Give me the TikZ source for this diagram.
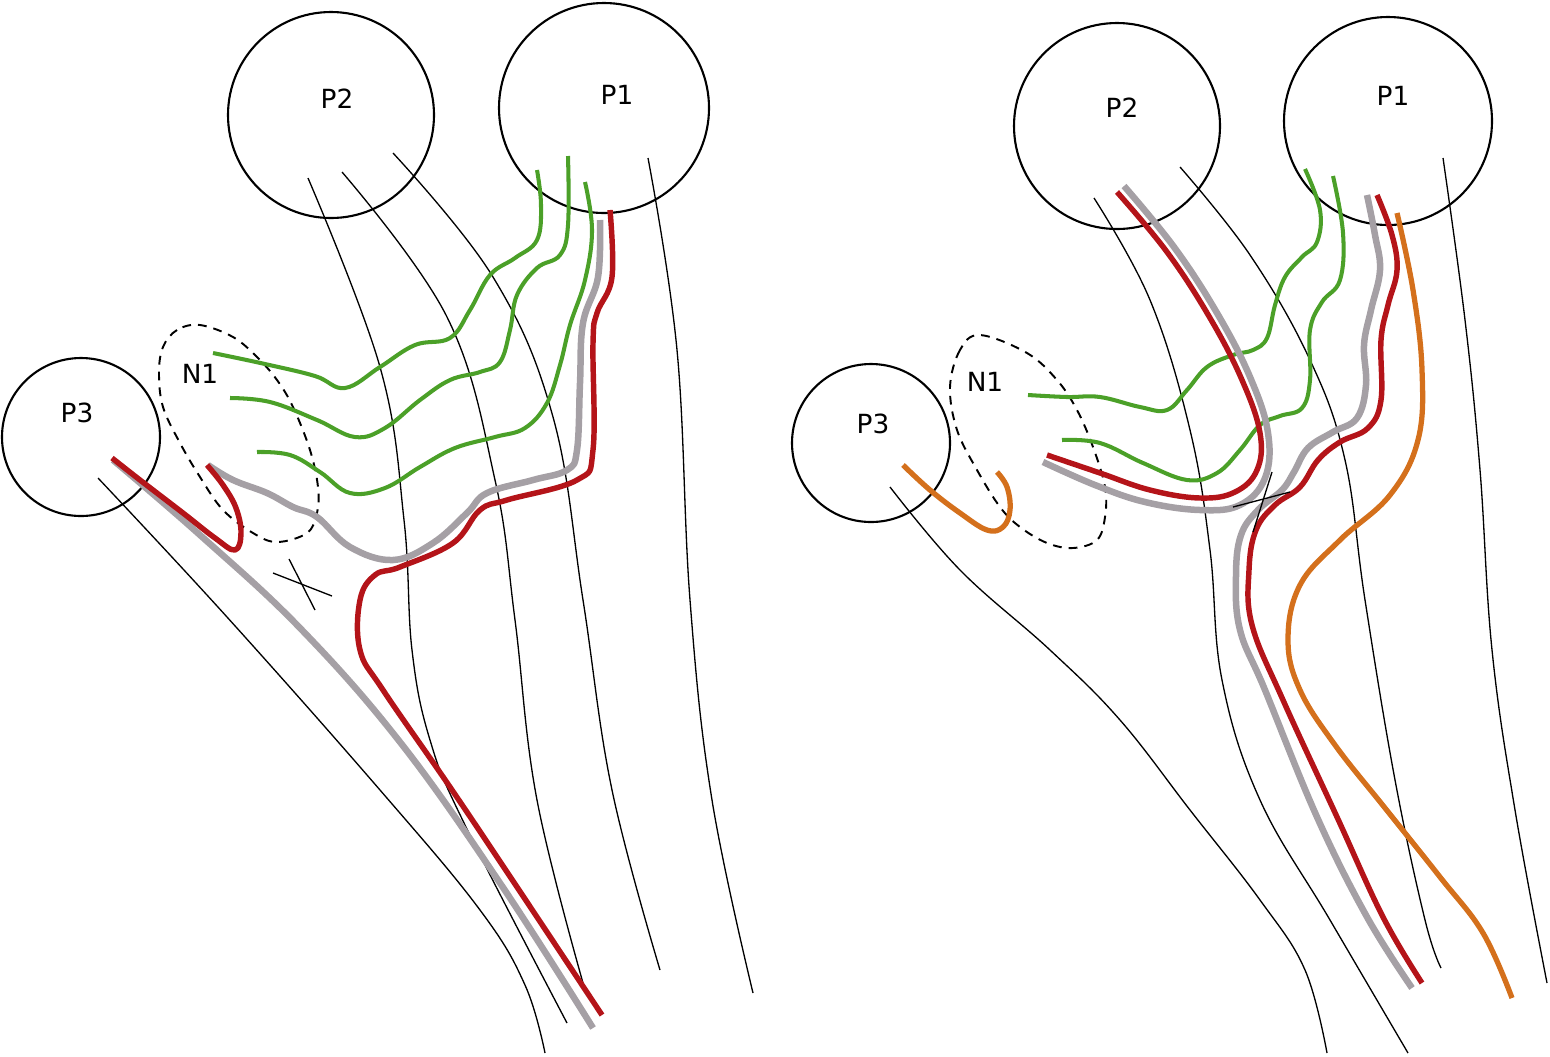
\documentclass[tikz,border=0pt]{standalone}
\usepackage{fontspec}
\setmainfont{DejaVu Sans}
\definecolor{TractRed}{RGB}{180, 20, 25}
\definecolor{TractGray}{RGB}{165, 160, 165}
\definecolor{TractGreen}{RGB}{75, 160, 40}
\definecolor{TractOrange}{RGB}{212, 112, 28}
\usepackage{tikz}
\usetikzlibrary{positioning}

\begin{document}
\begin{tikzpicture}[x=0.02cm, y=-0.02cm, font=\fontsize{15}{18}\selectfont,
  region/.style={draw, circle, line width=1.2pt, inner sep=0pt},
  nucleus/.style={draw, dashed, dash pattern=on 5pt off 4pt, line width=1.1pt},
  fiber/.style={line width=0.75pt},
  tract/.style={line width=#1, line cap=butt, line join=round},
  wavy/.style={smooth, tension=0.65}]
\useasboundingbox (0,0) rectangle (1550,1056);
% regions and labels
\foreach \n/\x/\y/\r/\lx/\ly/\t in {P1a/604/108/105/617/95/P1, P2a/331/115/103/337/99/P2, P3a/81/437/79/77/413/P3,
    P1b/1388/121/104/1393/96/P1, P2b/1117/126/103/1122/108/P2, P3b/871/443/79/873/424/P3} {
  \pgfmathsetmacro{\d}{2*\r*0.02}
  \node[region, minimum size=\d cm] (\n) at (\x,\y) {};
  \node (\n label) at (\lx,\ly) {\t};
}
\node (N1a) at (200,374) {N1};
\node (N1b) at (985,382) {N1};
\draw[nucleus] plot[smooth cycle, tension=0.6] coordinates {(200,325) (177,330) (163,347) (159,373) (163,407) (180,443) (200,477) (223,510) (253,533) (277,542) (307,533) (317,513) (318,487) (310,450) (293,407) (277,380) (257,357) (233,337)};
\draw[nucleus] plot[smooth cycle, tension=0.6] coordinates {(980,335) (960,350) (950,387) (957,430) (977,470) (1000,507) (1020,527) (1047,543) (1073,548) (1097,540) (1105,517) (1105,487) (1093,447) (1077,410) (1057,380) (1027,353)};

% left: fibres
\draw[fiber] plot[wavy] coordinates {(98,478) (227,617) (380,790) (480,910) (525,985) (545,1053)};
\draw[fiber] plot[wavy] coordinates {(308,178) (380,367) (404,520) (412,650) (430,740) (465,825) (567,1023)};
\draw[fiber] plot[wavy] coordinates {(342,172) (447,317) (495,480) (515,620) (537,800) (585,990)};
\draw[fiber] plot[wavy] coordinates {(393,153) (493,277) (553,417) (583,600) (612,790) (660,970)};
\draw[fiber] plot[wavy] coordinates {(648,158) (677,350) (690,600) (712,800) (753,993)};
\draw[TractGreen, tract=2.3pt] plot[wavy] coordinates {(213,353) (265,364) (315,376) (345,388) (380,367) (415,345) (450,338) (470,310) (490,275) (515,258) (537,240) (541,205) (537,170)};
\draw[TractGreen, tract=2.3pt] plot[wavy] coordinates {(230,398) (270,402) (317,420) (355,437) (385,428) (420,400) (450,380) (480,372) (500,362) (510,330) (517,295) (537,268) (560,255) (568,225) (568,156)};
\draw[TractGreen, tract=2.3pt] plot[wavy] coordinates {(257,452) (290,455) (320,472) (350,493) (385,488) (420,467) (455,448) (495,437) (525,428) (547,403) (560,365) (570,325) (585,280) (592,230) (585,182)};
\draw[TractGray, tract=3.7pt] plot[wavy] coordinates {(600,220) (598,277) (583,323) (580,383) (577,450) (567,470) (533,480) (487,493) (467,513) (433,543) (393,560) (350,547) (317,517) (293,507) (267,493) (233,480) (208,465)};
\draw[TractGray, tract=3.7pt] plot[wavy] coordinates {(113,460) (200,535) (300,628) (400,742) (500,883) (593,1028)};
\draw[TractRed, tract=3.1pt] plot[wavy] coordinates {(610,210) (612,277) (597,313) (593,343) (593,450) (577,480) (507,500) (480,510) (453,543) (400,567) (375,575) (360,600) (360,650) (383,690) (450,787) (517,887) (602,1015)};
\draw[TractRed, tract=3.1pt] plot[wavy] coordinates {(112,458) (140,480) (183,513) (215,538) (235,550) (241,533) (236,508) (223,485) (207,465)};
\draw[fiber] (273,573) -- (332,596);
\draw[fiber] (289,559) -- (315,610);

% right: fibres
\draw[fiber] plot[wavy] coordinates {(890,487) (960,570) (1050,650) (1120,720) (1190,810) (1260,900) (1305,970) (1327,1053)};
\draw[fiber] plot[wavy] coordinates {(1094,198) (1150,300) (1190,430) (1210,550) (1222,680) (1260,800) (1330,920) (1408,1053)};
\draw[fiber] plot[wavy] coordinates {(1180,167) (1250,255) (1310,360) (1345,460) (1365,600) (1395,780) (1425,920) (1441,968)};
\draw[fiber] plot[wavy] coordinates {(1443,158) (1465,320) (1480,470) (1492,650) (1515,810) (1547,983)};
\draw[TractGreen, tract=2.3pt] plot[wavy] coordinates {(1028,395) (1067,397) (1100,397) (1140,407) (1167,410) (1187,390) (1207,367) (1233,355) (1253,350) (1267,338) (1275,305) (1285,277) (1302,257) (1317,242) (1320,210) (1305,169)};
\draw[TractGreen, tract=2.3pt] plot[wavy] coordinates {(1062,440) (1100,443) (1143,463) (1187,480) (1217,473) (1240,450) (1260,425) (1280,416) (1302,408) (1310,380) (1310,330) (1322,302) (1340,280) (1343,233) (1333,176)};
\draw[TractGray, tract=3.7pt] plot[wavy] coordinates {(1124,186) (1174,247) (1217,313) (1250,377) (1268,433) (1265,478) (1240,505) (1200,510) (1145,502) (1095,485) (1043,462)};
\draw[TractRed, tract=3.1pt] plot[wavy] coordinates {(1117,192) (1167,252) (1210,318) (1242,380) (1260,433) (1257,470) (1235,492) (1200,498) (1150,490) (1100,473) (1047,455)};
\draw[TractGray, tract=3.7pt] plot[wavy] coordinates {(1367,195) (1375,235) (1380,270) (1371,310) (1364,345) (1366,385) (1357,418) (1333,432) (1308,448) (1294,472) (1282,490) (1258,510) (1241,535) (1236,575) (1240,630) (1265,690) (1317,817) (1367,917) (1412,988)};
\draw[TractRed, tract=3.1pt] plot[wavy] coordinates {(1377,195) (1392,235) (1397,270) (1388,305) (1381,340) (1381,400) (1368,428) (1340,442) (1318,460) (1300,487) (1275,505) (1256,530) (1249,570) (1252,625) (1283,700) (1337,817) (1383,917) (1422,983)};
\draw[TractOrange, tract=3pt] plot[wavy] coordinates {(1397,213) (1413,290) (1422,370) (1418,440) (1390,495) (1340,540) (1300,585) (1288,640) (1300,690) (1335,745) (1385,808) (1440,877) (1483,933) (1512,998)};
\draw[TractOrange, tract=3pt] plot[wavy] coordinates {(903,465) (930,490) (960,513) (987,530) (1003,527) (1010,510) (1007,487) (997,472)};
\draw[fiber] (1233,507) -- (1290,492);
\draw[fiber] (1272,472) -- (1253,532);
\end{tikzpicture}
\end{document}
